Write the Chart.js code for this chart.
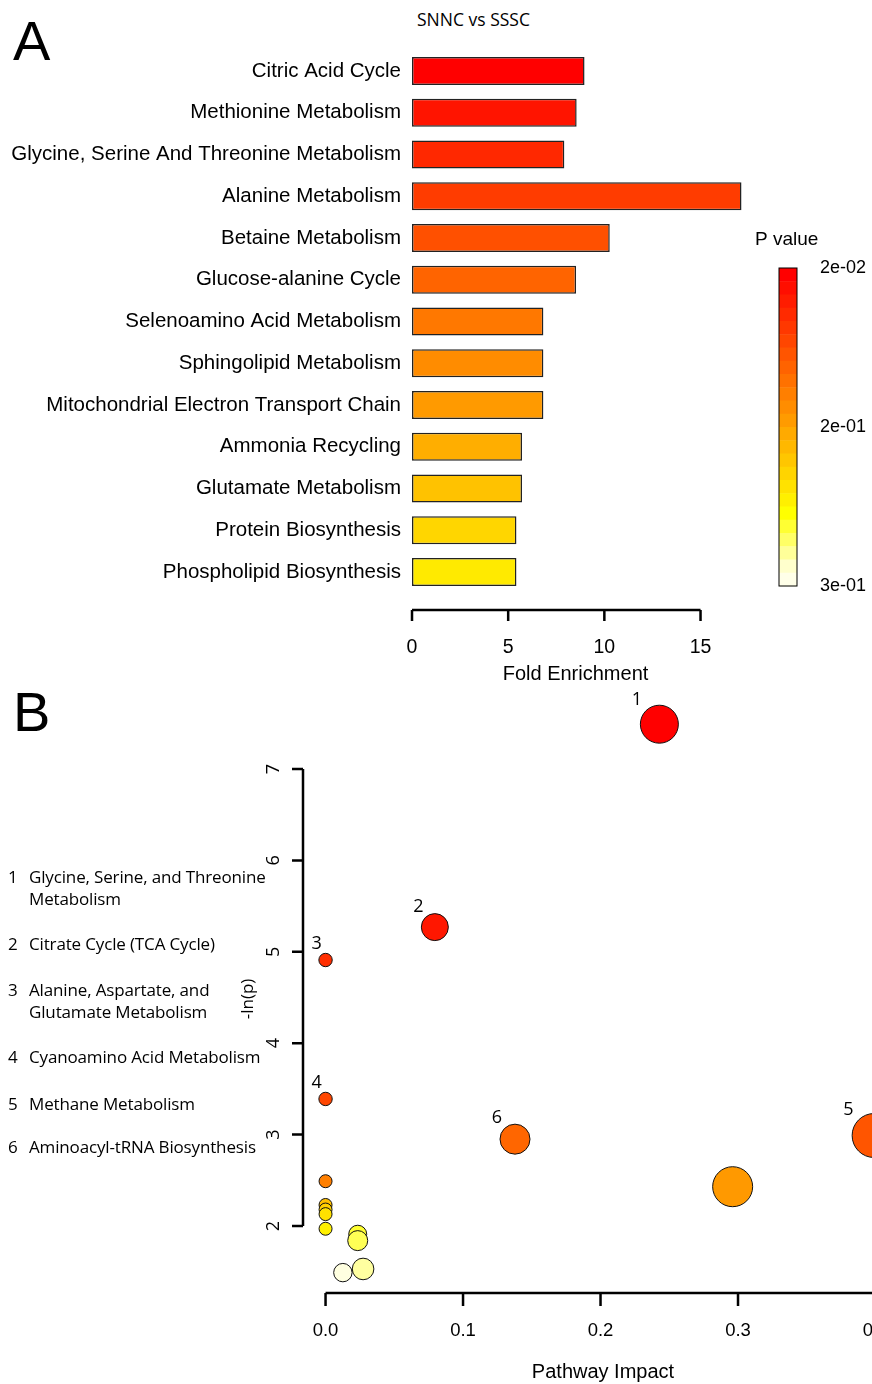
<!DOCTYPE html>
<html>
<head>
<meta charset="utf-8">
<script src="https://cdn.jsdelivr.net/npm/chart.js@4.4.0/dist/chart.umd.min.js"></script>
<style>
  html, body { margin: 0; padding: 0; background: #fff; }
  body { width: 872px; height: 1384px; position: relative; overflow: hidden; color: #000; }
  canvas { position: absolute; left: 0; }
  .panel { position: absolute; left: 13px; font-family: 'Liberation Sans', Arial, sans-serif; font-size: 56px; line-height: 56px; }
  .title { position: absolute; left: 417px; top: 8px; font-family: 'Open Sans', sans-serif; font-size: 17.5px; line-height: 22px; white-space: nowrap; }
  .item { position: absolute; left: 0; font-family: 'Open Sans', sans-serif; font-size: 17px; line-height: 22px; white-space: nowrap; }
  .item .num { position: absolute; left: 8px; top: 0; }
  .item .txt { position: absolute; left: 29px; top: 0; letter-spacing: -0.15px; }
</style>
</head>
<body>
<div class="panel" style="top:13px">A</div>
<div class="title">SNNC vs SSSC</div>
<canvas id="chartA" width="872" height="690" style="top:0"></canvas>

<div class="panel" style="top:684px">B</div>
<canvas id="chartB" width="960" height="694" style="top:690px"></canvas>

<div class="item" style="top:866px"><span class="num">1</span><span class="txt">Glycine, Serine, and Threonine<br>Metabolism</span></div>
<div class="item" style="top:933px"><span class="num">2</span><span class="txt">Citrate Cycle (TCA Cycle)</span></div>
<div class="item" style="top:979px"><span class="num">3</span><span class="txt">Alanine, Aspartate, and<br>Glutamate Metabolism</span></div>
<div class="item" style="top:1046px"><span class="num">4</span><span class="txt">Cyanoamino Acid Metabolism</span></div>
<div class="item" style="top:1093px"><span class="num">5</span><span class="txt">Methane Metabolism</span></div>
<div class="item" style="top:1136px"><span class="num">6</span><span class="txt">Aminoacyl-tRNA Biosynthesis</span></div>

<script>
//panel A: enrichment
const pathways = [
  'Citric Acid Cycle',
  'Methionine Metabolism',
  'Glycine, Serine And Threonine Metabolism',
  'Alanine Metabolism',
  'Betaine Metabolism',
  'Glucose-alanine Cycle',
  'Selenoamino Acid Metabolism',
  'Sphingolipid Metabolism',
  'Mitochondrial Electron Transport Chain',
  'Ammonia Recycling',
  'Glutamate Metabolism',
  'Protein Biosynthesis',
  'Phospholipid Biosynthesis',
];
const foldEnrichment = [8.97, 8.56, 7.92, 17.13, 10.28, 8.53, 6.83, 6.83, 6.83, 5.72, 5.72, 5.43, 5.43];
const barColors = [
  '#FF0000', '#FF1400', '#FF2800', '#FF3C00', '#FF5000', '#FF6400', '#FF7800',
  '#FF8C00', '#FF9A00', '#FFAE00', '#FFC200', '#FFD600', '#FFEA00',
];
const pValueColors = [
  '#FF0000', '#FF0E00', '#FF1C00', '#FF2A00', '#FF3800', '#FF4600', '#FF5500', '#FF6300',
  '#FF7100', '#FF7F00', '#FF8D00', '#FF9B00', '#FFAA00', '#FFB800', '#FFC600', '#FFD400',
  '#FFE200', '#FFF000', '#FFFF00', '#FFFF33', '#FFFF66', '#FFFF99', '#FFFFCC', '#FFFFE8',
];
const pValueLabels = ['2e-02', '2e-01', '3e-01'];

//panel B: pathway impact
const impactLabels = ['1', '2', '3', '4', '5', '6', '', '', '', '', '', '', '', '', '', ''];
const pathwayImpact = [0.2428, 0.0795, 0, 0, 0.399, 0.1378, 0, 0.2961, 0, 0, 0, 0, 0.0234, 0.0234, 0.0126, 0.0273];
const negLogP = [7.49, 5.27, 4.91, 3.39, 2.99, 2.95, 2.49, 2.43, 2.23, 2.18, 2.13, 1.97, 1.91, 1.84, 1.49, 1.53];
const bubbleSize = [19, 13.5, 6.7, 6.7, 22, 15, 6.5, 20, 6.5, 6.5, 6.5, 6.5, 9, 10, 9.2, 10.8];
const bubbleColors = [
  '#FF0000', '#FF1700', '#FF2E00', '#FF4600', '#FF5500', '#FF6600', '#FF7F00', '#FF9900',
  '#FFC000', '#FFD000', '#FFE000', '#FFF000', '#FFFF30', '#FFFF55', '#FFFFE0', '#FFFFA0',
];

Chart.defaults.font.family = '"Liberation Sans", Arial, sans-serif';
Chart.defaults.color = '#000';

//keep chart areas where they are set, no label overhang padding
function noScalePadding(scale) {
  scale.paddingTop = 0;
  scale.paddingBottom = 0;
  scale.paddingLeft = 0;
  scale.paddingRight = 0;
}

//R style axis: line only between first and last tick
const axisLineA = {
  id: 'axisLineA',
  afterDraw(chart) {
    const { ctx, chartArea, scales: { x } } = chart;
    const ticks = x.ticks;
    const y0 = chartArea.bottom + 17;
    ctx.save();
    ctx.strokeStyle = '#000';
    ctx.lineWidth = 2.5;
    ctx.beginPath();
    ctx.moveTo(x.getPixelForValue(ticks[0].value), y0);
    ctx.lineTo(x.getPixelForValue(ticks[ticks.length - 1].value), y0);
    ticks.forEach((t) => {
      const px = x.getPixelForValue(t.value);
      ctx.moveTo(px, y0);
      ctx.lineTo(px, y0 + 11);
    });
    ctx.stroke();
    ctx.restore();
  },
};

const colorBar = {
  id: 'colorBar',
  afterDraw(chart, args, opts) {
    const { ctx } = chart;
    const { left, top, width, height } = opts;
    const band = height / pValueColors.length;
    ctx.save();
    pValueColors.forEach((c, i) => {
      ctx.fillStyle = c;
      ctx.fillRect(left, top + i * band, width, band + 0.5);
    });
    ctx.strokeStyle = '#000';
    ctx.lineWidth = 1;
    ctx.strokeRect(left, top, width, height);
    ctx.fillStyle = '#000';
    ctx.textAlign = 'left';
    ctx.textBaseline = 'middle';
    ctx.font = '18px "Liberation Sans", Arial, sans-serif';
    pValueLabels.forEach((l, i) => {
      ctx.fillText(l, left + width + 23, top + (height * i) / (pValueLabels.length - 1));
    });
    ctx.textBaseline = 'alphabetic';
    ctx.font = '19px "Liberation Sans", Arial, sans-serif';
    ctx.fillText('P value', left - 24, top - 23);
    ctx.restore();
  },
};

const axisLinesB = {
  id: 'axisLinesB',
  afterDraw(chart) {
    const { ctx, chartArea, scales: { x, y } } = chart;
    ctx.save();
    ctx.strokeStyle = '#000';
    ctx.lineWidth = 2.5;
    ctx.beginPath();
    //y axis
    const yt = y.ticks;
    ctx.moveTo(chartArea.left, y.getPixelForValue(yt[0].value));
    ctx.lineTo(chartArea.left, y.getPixelForValue(yt[yt.length - 1].value));
    yt.forEach((t) => {
      const py = y.getPixelForValue(t.value);
      ctx.moveTo(chartArea.left, py);
      ctx.lineTo(chartArea.left - 11, py);
    });
    //x axis
    const xt = x.ticks;
    ctx.moveTo(x.getPixelForValue(xt[0].value), chartArea.bottom);
    ctx.lineTo(x.getPixelForValue(xt[xt.length - 1].value), chartArea.bottom);
    xt.forEach((t) => {
      const px = x.getPixelForValue(t.value);
      ctx.moveTo(px, chartArea.bottom);
      ctx.lineTo(px, chartArea.bottom + 13);
    });
    ctx.stroke();
    ctx.restore();
  },
};

const bubbleLabels = {
  id: 'bubbleLabels',
  afterDatasetsDraw(chart) {
    const { ctx } = chart;
    const meta = chart.getDatasetMeta(0);
    ctx.save();
    ctx.font = '18px "Open Sans", sans-serif';
    ctx.fillStyle = '#000';
    ctx.textAlign = 'center';
    ctx.textBaseline = 'middle';
    meta.data.forEach((pt, i) => {
      if (!impactLabels[i]) return;
      const r = bubbleSize[i];
      ctx.fillText(impactLabels[i], pt.x - (r * 1.1 + 1.5), pt.y - (r * 0.6 + 12.5));
    });
    ctx.restore();
  },
};

//set enrichment bars
new Chart(document.getElementById('chartA'), {
  type: 'bar',
  data: {
    labels: pathways,
    datasets: [
      {
        data: foldEnrichment,
        backgroundColor: barColors,
        borderColor: '#222',
        borderWidth: 1.5,
        borderSkipped: false,
        barPercentage: 0.67,
        categoryPercentage: 1,
        clip: false,
      },
    ],
  },
  options: {
    indexAxis: 'y',
    responsive: false,
    animation: false,
    layout: { autoPadding: false, padding: { top: 50, right: 133, left: 0, bottom: 0 } },
    plugins: {
      legend: { display: false },
      tooltip: { enabled: false },
      colorBar: { left: 779, top: 268, width: 18, height: 318 },
    },
    scales: {
      x: {
        min: 0,
        max: 17,
        grid: { display: false, drawTicks: false },
        border: { display: false },
        ticks: { stepSize: 5, includeBounds: false, padding: 43, font: { size: 19.5 } },
        title: {
          display: true,
          text: 'Fold Enrichment',
          font: { size: 20 },
          padding: { top: 0, bottom: 4 },
        },
        afterFit(scale) {
          scale.height = 97;
          noScalePadding(scale);
        },
      },
      y: {
        grid: { display: false, drawTicks: false },
        border: { display: false },
        ticks: { autoSkip: false, padding: 11, font: { size: 20.5 } },
        afterFit(scale) {
          scale.width = 412;
          noScalePadding(scale);
        },
      },
    },
  },
  plugins: [axisLineA, colorBar],
});

//set pathway impact bubbles
new Chart(document.getElementById('chartB'), {
  type: 'bubble',
  data: {
    datasets: [
      {
        data: pathwayImpact.map((x, i) => ({ x: x, y: negLogP[i], r: bubbleSize[i] })),
        backgroundColor: bubbleColors,
        borderColor: '#111',
        borderWidth: 1,
        clip: false,
      },
    ],
  },
  options: {
    responsive: false,
    animation: false,
    layout: { autoPadding: false, padding: { top: 15, right: 57, left: 0, bottom: 0 } },
    plugins: {
      legend: { display: false },
      tooltip: { enabled: false },
    },
    scales: {
      x: {
        min: -0.0164,
        max: 0.42,
        grid: { display: false, drawTicks: false },
        border: { display: false },
        ticks: {
          stepSize: 0.1,
          includeBounds: false,
          padding: 27,
          font: { size: 18.5 },
          callback: (v) => Number(v).toFixed(1),
        },
        title: {
          display: true,
          text: 'Pathway Impact',
          font: { size: 20 },
          padding: { top: 0, bottom: 0 },
        },
        afterFit(scale) {
          scale.height = 91;
          noScalePadding(scale);
        },
      },
      y: {
        min: 1.267,
        max: 7.7,
        grid: { display: false, drawTicks: false },
        border: { display: false },
        ticks: {
          stepSize: 1,
          includeBounds: false,
          minRotation: 90,
          maxRotation: 90,
          crossAlign: 'center',
          padding: 24,
          font: { family: '"Open Sans", sans-serif', size: 18 },
        },
        title: {
          display: true,
          text: '-ln(p)',
          font: { family: '"Open Sans", sans-serif', size: 17 },
          padding: { top: 238, bottom: 0 },
        },
        afterFit(scale) {
          scale.width = 303;
          noScalePadding(scale);
        },
      },
    },
  },
  plugins: [axisLinesB, bubbleLabels],
});
</script>
</body>
</html>
